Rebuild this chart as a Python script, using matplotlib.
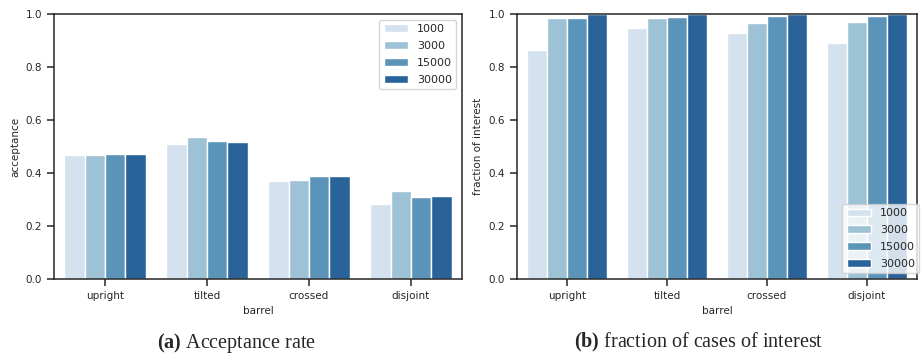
import numpy as np
import pandas as pd
import matplotlib
matplotlib.use("Agg")
import matplotlib.pyplot as plt
import seaborn as sns

barrels = ["upright", "tilted", "crossed", "disjoint"]
samples = ["1000", "3000", "15000", "30000"]

# acceptance rate per barrel, one list per sample count
acc_1000 = [0.467, 0.509, 0.371, 0.283]
acc_3000 = [0.467, 0.536, 0.374, 0.333]
acc_15000 = [0.472, 0.521, 0.388, 0.309]
acc_30000 = [0.472, 0.518, 0.388, 0.314]

# fraction of cases of interest
foi_1000 = [0.864, 0.946, 0.928, 0.891]
foi_3000 = [0.984, 0.984, 0.965, 0.969]
foi_15000 = [0.984, 0.989, 0.994, 0.994]
foi_30000 = [1.0, 1.0, 1.0, 1.0]


def to_frame(series, name):
    rows = []
    for s, vals in zip(samples, series):
        for b, v in zip(barrels, vals):
            rows.append({"barrel": b, "n": s, name: v})
    return pd.DataFrame(rows)


acc_df = to_frame([acc_1000, acc_3000, acc_15000, acc_30000], "acceptance")
foi_df = to_frame([foi_1000, foi_3000, foi_15000, foi_30000], "fraction of interest")

sns.set_style("ticks")
plt.rcParams["font.family"] = ["DejaVu Sans"]
plt.rcParams["font.size"] = 7.5
plt.rcParams["mathtext.fontset"] = "custom"
plt.rcParams["mathtext.rm"] = "Liberation Serif"
plt.rcParams["mathtext.bf"] = "Liberation Serif:bold"

fig = plt.figure(figsize=(9.21, 3.61), dpi=100)
ax1 = fig.add_axes([0.0586, 0.2271, 0.443, 0.7341])
ax2 = fig.add_axes([0.5613, 0.2271, 0.4343, 0.7341])

for ax, df, col in [(ax1, acc_df, "acceptance"), (ax2, foi_df, "fraction of interest")]:
    sns.barplot(data=df, x="barrel", y=col, hue="n", hue_order=samples,
                palette="Blues", ax=ax, errorbar=None, legend=True)
    ax.set_ylim(0, 1.0)
    ax.set_xlim(-0.5, 3.5)
    ax.tick_params(labelsize=7.5, length=5, width=1.1)
    ax.set_xlabel("barrel", fontsize=7.5)
    ax.set_ylabel(col, fontsize=7.5)
    for sp in ax.spines.values():
        sp.set_linewidth(1.1)

leg_kw = dict(fontsize=8, title=None, labelspacing=0.62, handlelength=2.2)
ax1.legend(loc="upper right", **leg_kw)
ax2.legend(loc="lower right", bbox_to_anchor=(1.02, 0.0), **leg_kw)

cap = dict(family=["Liberation Serif"], fontsize=14.5, ha="center", va="center")
fig.text(0.257, 0.05, r"$\mathbf{(a)}$ Acceptance rate", **cap)
fig.text(0.759, 0.05, r"$\mathbf{(b)}$ fraction of cases of interest", **cap)

fig.savefig("out.png", dpi=100)
